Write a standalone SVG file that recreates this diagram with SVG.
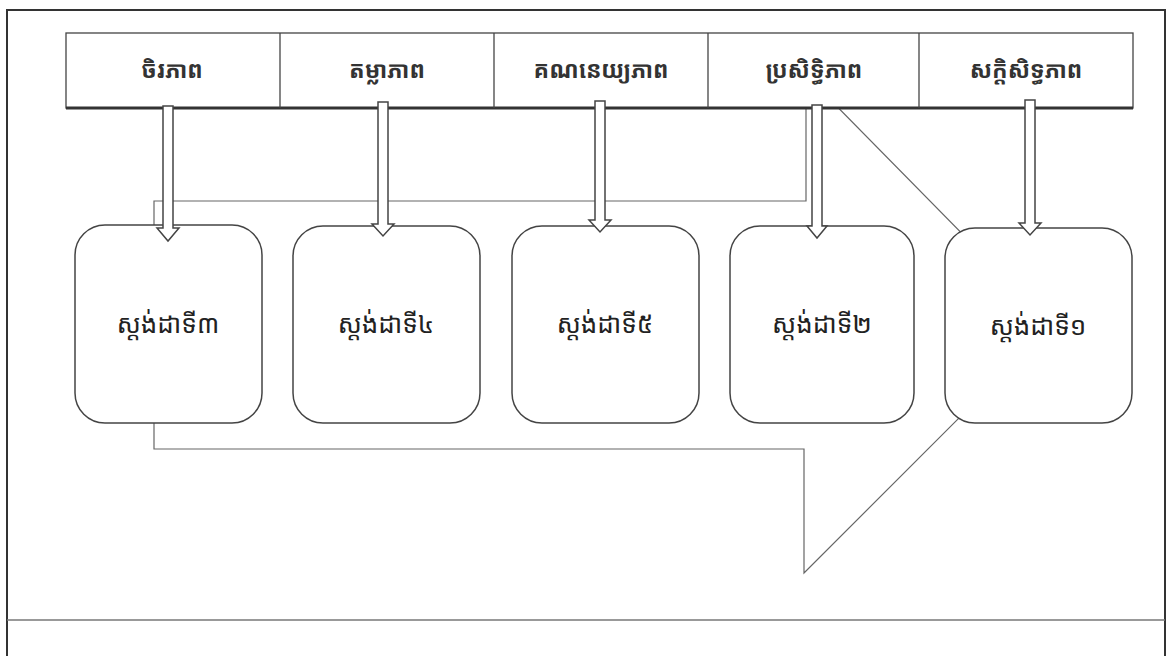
<svg xmlns="http://www.w3.org/2000/svg" width="1171" height="656" viewBox="0 0 1171 656">
<style>
.frame{fill:none;stroke:#333;stroke-width:2}
.sep{fill:none;stroke:#777;stroke-width:1.5}
.big{fill:none;stroke:#666;stroke-width:1.2}
.band{fill:#fff;stroke:#444;stroke-width:1.3}
.bandbot{stroke:#333;stroke-width:3}
.div{stroke:#444;stroke-width:1.3}
.hdr{font-family:"Noto Sans Khmer","Khmer OS","Noto Sans",sans-serif;font-size:23px;font-weight:bold;fill:#333;text-anchor:middle}
.box{fill:#fff;stroke:#444;stroke-width:1.5}
.lbl{font-family:"Noto Sans Khmer","Khmer OS","Noto Sans",sans-serif;font-size:26px;fill:#222;text-anchor:middle}
.arr{fill:#fff;stroke:#444;stroke-width:1.5;stroke-linejoin:miter}
</style>
<rect x="0" y="0" width="1171" height="656" fill="#fff"/>
<path class="frame" d="M7,662 L7,10 L1165,10 L1165,662"/>
<line class="sep" x1="7" y1="620" x2="1165" y2="620"/>
<g id="connectors">
<polygon class="big" points="154,201 806,201 806,75 1052,325 804,573 804,449 154,449"/>
</g>
<g id="band">
<rect class="band" x="66" y="33" width="1067" height="75"/>
<line class="bandbot" x1="66" y1="108" x2="1133" y2="108"/>
<line class="div" x1="280" y1="33" x2="280" y2="108"/>
<line class="div" x1="494" y1="33" x2="494" y2="108"/>
<line class="div" x1="708" y1="33" x2="708" y2="108"/>
<line class="div" x1="919" y1="33" x2="919" y2="108"/>
</g>
<g id="h1"><text class="hdr" x="172" y="78">ចិរភាព</text></g>
<g id="h2"><text class="hdr" x="387" y="78">តម្លាភាព</text></g>
<g id="h3"><text class="hdr" x="601" y="78">គណនេយ្យភាព</text></g>
<g id="h4"><text class="hdr" x="814" y="78">ប្រសិទ្ធិភាព</text></g>
<g id="h5"><text class="hdr" x="1026" y="78">សក្តិសិទ្ធភាព</text></g>
<g id="n3"><rect class="box" x="75" y="225" width="187" height="198" rx="30" ry="30"/><text class="lbl" x="168" y="333">ស្តង់ដាទី៣</text></g>
<g id="n4"><rect class="box" x="293" y="226" width="187" height="197" rx="30" ry="30"/><text class="lbl" x="386" y="333">ស្តង់ដាទី៤</text></g>
<g id="n5"><rect class="box" x="512" y="226" width="187" height="197" rx="30" ry="30"/><text class="lbl" x="605" y="333">ស្តង់ដាទី៥</text></g>
<g id="n2"><rect class="box" x="730" y="226" width="184" height="197" rx="30" ry="30"/><text class="lbl" x="822" y="333">ស្តង់ដាទី២</text></g>
<g id="n1"><rect class="box" x="945" y="228" width="187" height="195" rx="30" ry="30"/><text class="lbl" x="1038" y="335">ស្តង់ដាទី១</text></g>
<g id="arrows">
<polygon class="arr" points="163,106 173,106 173,228 179,228 168,241 157,228 163,228"/>
<polygon class="arr" points="378,102 388,102 388,224 394,224 383,236 372,224 378,224"/>
<polygon class="arr" points="595,101 605,101 605,220 611,220 600,232 589,220 595,220"/>
<polygon class="arr" points="812,105 822,105 822,226 827,226 817,238 807,226 812,226"/>
<polygon class="arr" points="1025,100 1035,100 1035,223 1041,223 1030,235 1019,223 1025,223"/>
</g>
</svg>
